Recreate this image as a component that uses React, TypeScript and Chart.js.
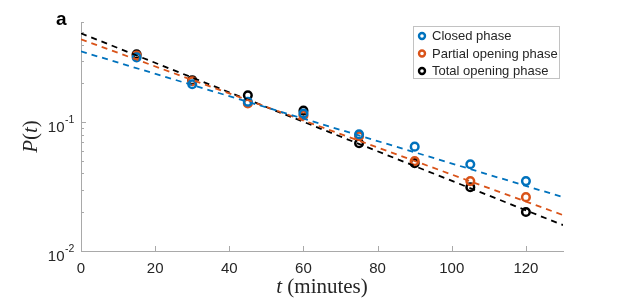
import React, { useEffect, useRef } from "react";
import { Chart, registerables } from "chart.js";

Chart.register(...registerables);

// ---- data ----
const times = [15, 30, 45, 60, 75, 90, 105, 120];
const closedValues = [0.319, 0.197, 0.144, 0.117, 0.0807, 0.0646, 0.0472, 0.0349];
const partialValues = [0.33, 0.208, 0.14, 0.113, 0.0779, 0.0499, 0.0349, 0.0262];
const totalValues = [0.337, 0.212, 0.162, 0.123, 0.0687, 0.0481, 0.0313, 0.0201];

const fitTimes = [0, 130];
const closedFit = [0.355, 0.0262];
const partialFit = [0.44, 0.019];
const totalFit = [0.49, 0.0159];

const xTicks = [0, 20, 40, 60, 80, 100, 120];
const yTicks = [0.01, 0.1];
const yTickBase = ["10", "10"];
const yTickExp = ["-2", "-1"];
const seriesNames = ["Closed phase", "Partial opening phase", "Total opening phase"];
const seriesColors = ["#0072BD", "#D95319", "#000000"];
const panelLabel = "a";

const SANS = '"Liberation Sans", Arial, Helvetica, sans-serif';
const SERIF = '"Liberation Serif", "Times New Roman", serif';
const AXIS_COLOR = "#a9a9a9";
const TEXT_COLOR = "#262626";

const pts = (xs: number[], ys: number[]) => xs.map((x, i) => ({ x, y: ys[i] }));

const decorPlugin = {
  id: "decor",
  afterDraw(chart: any) {
    const ctx: CanvasRenderingContext2D = chart.ctx;
    const xs = chart.scales.x;
    const ys = chart.scales.y;
    const area = chart.chartArea;
    ctx.save();

    // x ticks (inward)
    ctx.strokeStyle = AXIS_COLOR;
    ctx.lineWidth = 1;
    ctx.beginPath();
    xTicks.forEach((v) => {
      const px = Math.round(xs.getPixelForValue(v)) + 0.5;
      ctx.moveTo(px, area.bottom);
      ctx.lineTo(px, area.bottom - 5);
    });
    // y major & minor ticks (inward)
    const yMin = ys.min;
    const yMax = ys.max;
    for (let e = -2; e <= 0; e++) {
      for (let m = 1; m <= 9; m++) {
        const v = m * Math.pow(10, e);
        if (v < yMin - 1e-12 || v > yMax + 1e-12) continue;
        const py = Math.round(ys.getPixelForValue(v)) + 0.5;
        const len = m === 1 ? 5 : 3;
        ctx.moveTo(area.left, py);
        ctx.lineTo(area.left + len, py);
      }
    }
    ctx.stroke();

    // y tick labels with superscript
    ctx.fillStyle = TEXT_COLOR;
    ctx.textBaseline = "alphabetic";
    yTicks.forEach((v, i) => {
      const py = ys.getPixelForValue(v);
      ctx.font = `15px ${SANS}`;
      ctx.textAlign = "right";
      ctx.fillText(yTickBase[i], 64.5, py + 10);
      ctx.font = `10.5px ${SANS}`;
      ctx.textAlign = "left";
      ctx.fillText(yTickExp[i], 65, py + 1);
    });

    // x axis title: t (minutes)
    const cx = (area.left + area.right) / 2;
    const fs = 21;
    ctx.textAlign = "left";
    ctx.font = `italic ${fs}px ${SERIF}`;
    const w1 = ctx.measureText("t").width;
    ctx.font = `${fs}px ${SERIF}`;
    const w2 = ctx.measureText(" (minutes)").width;
    const x0 = cx - (w1 + w2) / 2;
    ctx.font = `italic ${fs}px ${SERIF}`;
    ctx.fillText("t", x0, 293);
    ctx.font = `${fs}px ${SERIF}`;
    ctx.fillText(" (minutes)", x0 + w1, 293);

    // y axis title: P(t)
    const cy = (area.top + area.bottom) / 2;
    ctx.save();
    ctx.translate(37, cy);
    ctx.rotate(-Math.PI / 2);
    const parts: [string, boolean][] = [["P", true], ["(", false], ["t", true], [")", false]];
    let total = 0;
    const widths = parts.map(([s, it]) => {
      ctx.font = `${it ? "italic " : ""}${fs}px ${SERIF}`;
      const w = ctx.measureText(s).width;
      total += w;
      return w;
    });
    let px0 = -total / 2;
    parts.forEach(([s, it], i) => {
      ctx.font = `${it ? "italic " : ""}${fs}px ${SERIF}`;
      ctx.fillText(s, px0, 0);
      px0 += widths[i];
    });
    ctx.restore();

    // panel label
    ctx.fillStyle = "#000";
    ctx.font = `bold 19px ${SANS}`;
    ctx.textAlign = "left";
    ctx.fillText(panelLabel, 56, 25);

    // legend
    const lx = 413.5, ly = 26.5, lw = 146, lh = 52;
    ctx.fillStyle = "#ffffff";
    ctx.fillRect(lx, ly, lw, lh);
    ctx.strokeStyle = "#c2c2c2";
    ctx.lineWidth = 1;
    ctx.strokeRect(lx, ly, lw, lh);
    const rows = [36, 53.5, 71];
    seriesNames.forEach((name, i) => {
      ctx.beginPath();
      ctx.strokeStyle = seriesColors[i];
      ctx.lineWidth = 2.4;
      ctx.arc(422, rows[i], 3, 0, Math.PI * 2);
      ctx.stroke();
      ctx.fillStyle = TEXT_COLOR;
      ctx.font = `13px ${SANS}`;
      ctx.textBaseline = "middle";
      ctx.textAlign = "left";
      ctx.fillText(name, 432, rows[i] + 0.5);
    });

    ctx.restore();
  },
};

export default function App() {
  const ref = useRef<HTMLCanvasElement | null>(null);

  useEffect(() => {
    document.body.style.margin = "0";
    const canvas = ref.current;
    if (!canvas) return;

    const pointSet = (label: string, ys: number[], color: string) => ({
      label,
      data: pts(times, ys),
      showLine: false,
      borderColor: color,
      backgroundColor: "rgba(0,0,0,0)",
      pointBorderColor: color,
      pointBackgroundColor: "rgba(0,0,0,0)",
      pointRadius: 3.8,
      pointBorderWidth: 2.5,
      pointStyle: "circle",
    });
    const fitSet = (label: string, ys: number[], color: string) => ({
      label,
      data: pts(fitTimes, ys),
      showLine: true,
      borderColor: color,
      borderWidth: 1.8,
      borderDash: [6, 5],
      pointRadius: 0,
      fill: false,
      tension: 0,
    });

    const chart = new Chart(canvas, {
      type: "line",
      data: {
        datasets: [
          fitSet("Closed fit", closedFit, seriesColors[0]),
          fitSet("Partial fit", partialFit, seriesColors[1]),
          fitSet("Total fit", totalFit, seriesColors[2]),
          pointSet(seriesNames[0], closedValues, seriesColors[0]),
          pointSet(seriesNames[1], partialValues, seriesColors[1]),
          pointSet(seriesNames[2], totalValues, seriesColors[2]),
        ] as any,
      },
      options: {
        animation: false,
        responsive: false,
        devicePixelRatio: 1,
        layout: { padding: { left: 0, right: 60, top: 22, bottom: 0 } },
        plugins: {
          legend: { display: false },
          tooltip: { enabled: false },
        },
        scales: {
          x: {
            type: "linear",
            min: 0,
            max: 130,
            afterBuildTicks: (s: any) => {
              s.ticks = xTicks.map((v) => ({ value: v }));
            },
            afterFit: (s: any) => {
              s.height = 49;
            },
            grid: { display: false, drawTicks: false },
            border: { display: true, color: AXIS_COLOR, width: 1 },
            ticks: {
              padding: 9,
              autoSkip: false,
              maxRotation: 0,
              color: TEXT_COLOR,
              font: { family: SANS, size: 15 },
            },
          },
          y: {
            type: "logarithmic",
            min: 0.01,
            max: 0.6,
            afterFit: (s: any) => {
              s.width = 81;
            },
            grid: { display: false, drawTicks: false },
            border: { display: true, color: AXIS_COLOR, width: 1 },
            ticks: { display: false },
          },
        },
      } as any,
      plugins: [decorPlugin],
    });

    return () => chart.destroy();
  }, []);

  return (
    <div style={{ position: "absolute", left: 0, top: 0, width: 623, height: 300, background: "#fff" }}>
      <canvas ref={ref} width={623} height={300} style={{ display: "block" }} />
    </div>
  );
}
